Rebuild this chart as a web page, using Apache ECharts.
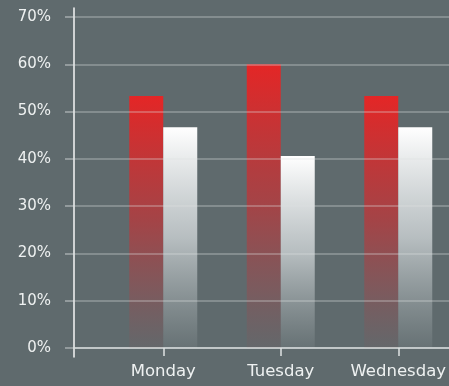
<!DOCTYPE html>
<html>
<head>
<meta charset="utf-8">
<script src="https://cdn.jsdelivr.net/npm/echarts@6/dist/echarts.min.js"></script>
<style>
  html, body { margin: 0; padding: 0; background: #5f6a6d; }
  #chart { width: 449px; height: 386px; }
</style>
</head>
<body>
<div id="chart"></div>
<script>
const days = ["Monday", "Tuesday", "Wednesday"];
const redValues = [53.3, 60, 53.3];
const whiteValues = [46.7, 40.6, 46.7];
const yTicks = [0, 10, 20, 30, 40, 50, 60, 70];

const chart = echarts.init(document.getElementById("chart"));
const labelFont = "DejaVu Sans";

const option = {
  backgroundColor: "#5f6a6d",
  animation: false,
  grid: [
    // bars
    { left: 104.5, width: 352.5, top: 17, bottom: 38, outerBoundsMode: "none", containLabel: false },
    // value scale, gridlines, x axis line
    { left: 74, right: 0, top: 17, bottom: 38, outerBoundsMode: "none", containLabel: false },
    // tall y axis line
    { left: 74, right: 0, top: 8, bottom: 29, outerBoundsMode: "none", containLabel: false },
  ],
  xAxis: [
    {
      gridIndex: 0,
      type: "category",
      data: days,
      axisLine: { show: false },
      axisTick: { show: true, interval: 0, alignWithLabel: true, length: 8, lineStyle: { color: "#dfe3e3", width: 1.5 } },
      axisLabel: { interval: 0, hideOverlap: false, color: "#eef1f1", fontSize: 16.5, fontFamily: labelFont, margin: 15 },
    },
    {
      gridIndex: 1,
      type: "value",
      min: 0,
      max: 1,
      axisLine: { show: true, onZero: false, lineStyle: { color: "#d4d9d9", width: 1.5 } },
      axisTick: { show: false },
      axisLabel: { show: false },
      splitLine: { show: false },
    },
    {
      gridIndex: 2,
      type: "value",
      show: false,
    },
  ],
  yAxis: [
    {
      gridIndex: 0,
      type: "value",
      min: 0,
      max: 70,
      interval: 10,
      show: false,
    },
    {
      gridIndex: 1,
      type: "value",
      min: yTicks[0],
      max: yTicks[yTicks.length - 1],
      interval: 10,
      z: 5,
      axisLine: { show: false },
      axisTick: { show: true, length: 9, lineStyle: { color: "rgba(220,225,225,0.55)", width: 1.5 } },
      axisLabel: {
        color: "#eef1f1",
        fontSize: 15,
        fontFamily: labelFont,
        margin: 23,
        formatter: "{value}%",
      },
      splitLine: { show: true, lineStyle: { color: "rgba(220,225,225,0.4)", width: 1.5 } },
    },
    {
      gridIndex: 2,
      type: "value",
      min: 0,
      max: 1,
      axisLine: { show: true, lineStyle: { color: "#f4f6f6", width: 1.5 } },
      axisTick: { show: false },
      axisLabel: { show: false },
      splitLine: { show: false },
    },
  ],
  series: [
    {
      type: "bar",
      xAxisIndex: 0,
      yAxisIndex: 0,
      data: redValues,
      barWidth: 34,
      barGap: "0%",
      z: 2,
      itemStyle: {
        color: new echarts.graphic.LinearGradient(0, 0, 0, 1, [
          { offset: 0, color: "rgba(228,38,38,1)" },
          { offset: 0.5, color: "rgba(205,45,48,0.62)" },
          { offset: 1, color: "rgba(180,60,65,0.06)" },
        ]),
      },
    },
    {
      type: "bar",
      xAxisIndex: 0,
      yAxisIndex: 0,
      data: whiteValues,
      barWidth: 34,
      barGap: "0%",
      z: 2,
      itemStyle: {
        color: new echarts.graphic.LinearGradient(0, 0, 0, 1, [
          { offset: 0, color: "rgba(255,255,255,1)" },
          { offset: 0.5, color: "rgba(225,230,232,0.68)" },
          { offset: 1, color: "rgba(200,208,210,0.08)" },
        ]),
      },
    },
  ],
};

chart.setOption(option);
</script>
</body>
</html>
